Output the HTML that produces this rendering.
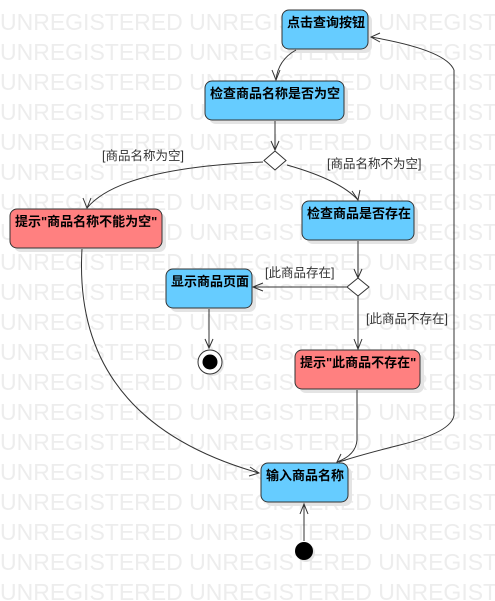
<!DOCTYPE html>
<html><head><meta charset="utf-8"><style>
html,body{margin:0;padding:0;background:#fff;width:495px;height:601px;overflow:hidden}
svg{display:block}
.wm{font-family:"Liberation Sans",sans-serif;font-size:23px;fill:#ededed}
.t{font-family:"Liberation Sans","Noto Sans CJK SC",sans-serif;font-size:13px;font-weight:bold;fill:#000}
.g{font-family:"Liberation Sans","Noto Sans CJK SC",sans-serif;font-size:12.5px;fill:#333}
.b{fill:#66ccff;stroke:#333;stroke-width:1}
.r{fill:#ff8080;stroke:#333;stroke-width:1}
.s{fill:#e4e4e4}
.l{fill:none;stroke:#333;stroke-width:1}
</style></head><body>
<svg width="495" height="601" viewBox="0 0 495 601" xmlns="http://www.w3.org/2000/svg">
<g class="wm">
<text x="0" y="30">UNREGISTERED UNREGISTERED UNREGISTERED</text>
<text x="0" y="60">UNREGISTERED UNREGISTERED UNREGISTERED</text>
<text x="0" y="90">UNREGISTERED UNREGISTERED UNREGISTERED</text>
<text x="0" y="120">UNREGISTERED UNREGISTERED UNREGISTERED</text>
<text x="0" y="150">UNREGISTERED UNREGISTERED UNREGISTERED</text>
<text x="0" y="180">UNREGISTERED UNREGISTERED UNREGISTERED</text>
<text x="0" y="210">UNREGISTERED UNREGISTERED UNREGISTERED</text>
<text x="0" y="240">UNREGISTERED UNREGISTERED UNREGISTERED</text>
<text x="0" y="270">UNREGISTERED UNREGISTERED UNREGISTERED</text>
<text x="0" y="300">UNREGISTERED UNREGISTERED UNREGISTERED</text>
<text x="0" y="330">UNREGISTERED UNREGISTERED UNREGISTERED</text>
<text x="0" y="360">UNREGISTERED UNREGISTERED UNREGISTERED</text>
<text x="0" y="390">UNREGISTERED UNREGISTERED UNREGISTERED</text>
<text x="0" y="420">UNREGISTERED UNREGISTERED UNREGISTERED</text>
<text x="0" y="450">UNREGISTERED UNREGISTERED UNREGISTERED</text>
<text x="0" y="480">UNREGISTERED UNREGISTERED UNREGISTERED</text>
<text x="0" y="510">UNREGISTERED UNREGISTERED UNREGISTERED</text>
<text x="0" y="540">UNREGISTERED UNREGISTERED UNREGISTERED</text>
<text x="0" y="570">UNREGISTERED UNREGISTERED UNREGISTERED</text>
<text x="0" y="600">UNREGISTERED UNREGISTERED UNREGISTERED</text>
</g>
<!-- shadows -->
<rect class="s" x="286" y="14" width="86" height="39" rx="7"/>
<rect class="s" x="209" y="85" width="139" height="39" rx="7"/>
<rect class="s" x="14" y="213" width="152" height="39" rx="7"/>
<rect class="s" x="306" y="205" width="112" height="39" rx="7"/>
<rect class="s" x="170" y="273" width="86" height="39" rx="7"/>
<rect class="s" x="299" y="354" width="125" height="39" rx="7"/>
<rect class="s" x="265" y="467" width="87" height="39" rx="7"/>
<!-- edges -->
<path class="l" d="M296 50 Q278 60 276 80"/><path class="l" d="M272 70 L276 80 L280 70"/>
<path class="l" d="M275 121 L275 150"/><path class="l" d="M271 141 L275 150 L279 141"/>
<path class="l" d="M263 162 Q120 168 87 208"/><path class="l" d="M83 198 L87 208 L91 198"/>
<path class="l" d="M287 165 Q340 180 358 200"/><path class="l" d="M352 191 L358 200 L360 190"/>
<path class="l" d="M358 241 L358 278"/><path class="l" d="M354 269 L358 278 L362 269"/>
<path class="l" d="M347 287 L253 287"/><path class="l" d="M263 283 L253 287 L263 291"/>
<path class="l" d="M358 296 L358 349"/><path class="l" d="M354 339 L358 349 L362 339"/>
<path class="l" d="M209 309 L209 348"/><path class="l" d="M205 339 L209 348 L213 339"/>
<path class="l" d="M82 249 Q72 420 259 473"/><path class="l" d="M250 467 L259 473 L249 476"/>
<path class="l" d="M357 390 L357 440 Q356 455 337 462"/><path class="l" d="M341 454 L337 462 L346 460"/>
<path class="l" d="M454 70 L454 415 Q452 432 400 445 Q360 455 339 462"/>
<path class="l" d="M454 70 Q446 50 371 37"/><path class="l" d="M380 33 L371 37 L380 42"/>
<path class="l" d="M304 541 L304 504"/><path class="l" d="M300 514 L304 504 L308 514"/>
<!-- nodes -->
<rect class="b" x="282" y="10" width="86" height="39" rx="7"/><text class="t" x="287" y="27">点击查询按钮</text>
<rect class="b" x="205" y="81" width="139" height="39" rx="7"/><text class="t" x="210" y="98">检查商品名称是否为空</text>
<polygon points="275,151 286,160.5 275,170 264,160.5" fill="#fff" stroke="#333"/>
<text class="g" x="102" y="160">[商品名称为空]</text>
<text class="g" x="327" y="168">[商品名称不为空]</text>
<rect class="r" x="10" y="209" width="152" height="39" rx="7"/><text class="t" x="15" y="226">提示"商品名称不能为空"</text>
<rect class="b" x="302" y="201" width="112" height="39" rx="7"/><text class="t" x="307" y="218">检查商品是否存在</text>
<rect class="b" x="166" y="269" width="86" height="39" rx="7"/><text class="t" x="171" y="286">显示商品页面</text>
<polygon points="358,278 369,287 358,296 347,287" fill="#fff" stroke="#333"/>
<text class="g" x="265" y="277">[此商品存在]</text>
<text class="g" x="366" y="323">[此商品不存在]</text>
<circle cx="212" cy="364" r="12" fill="#e4e4e4"/>
<circle cx="210" cy="362" r="12" fill="#fff" stroke="#333"/><circle cx="210" cy="362" r="7.5" fill="#000"/>
<rect class="r" x="295" y="350" width="125" height="39" rx="7"/><text class="t" x="300" y="367">提示"此商品不存在"</text>
<rect class="b" x="261" y="463" width="87" height="39" rx="7"/><text class="t" x="266" y="480">输入商品名称</text>
<circle cx="306" cy="553" r="9" fill="#e4e4e4"/>
<circle cx="304" cy="551" r="9" fill="#000"/>
</svg>
</body></html>
